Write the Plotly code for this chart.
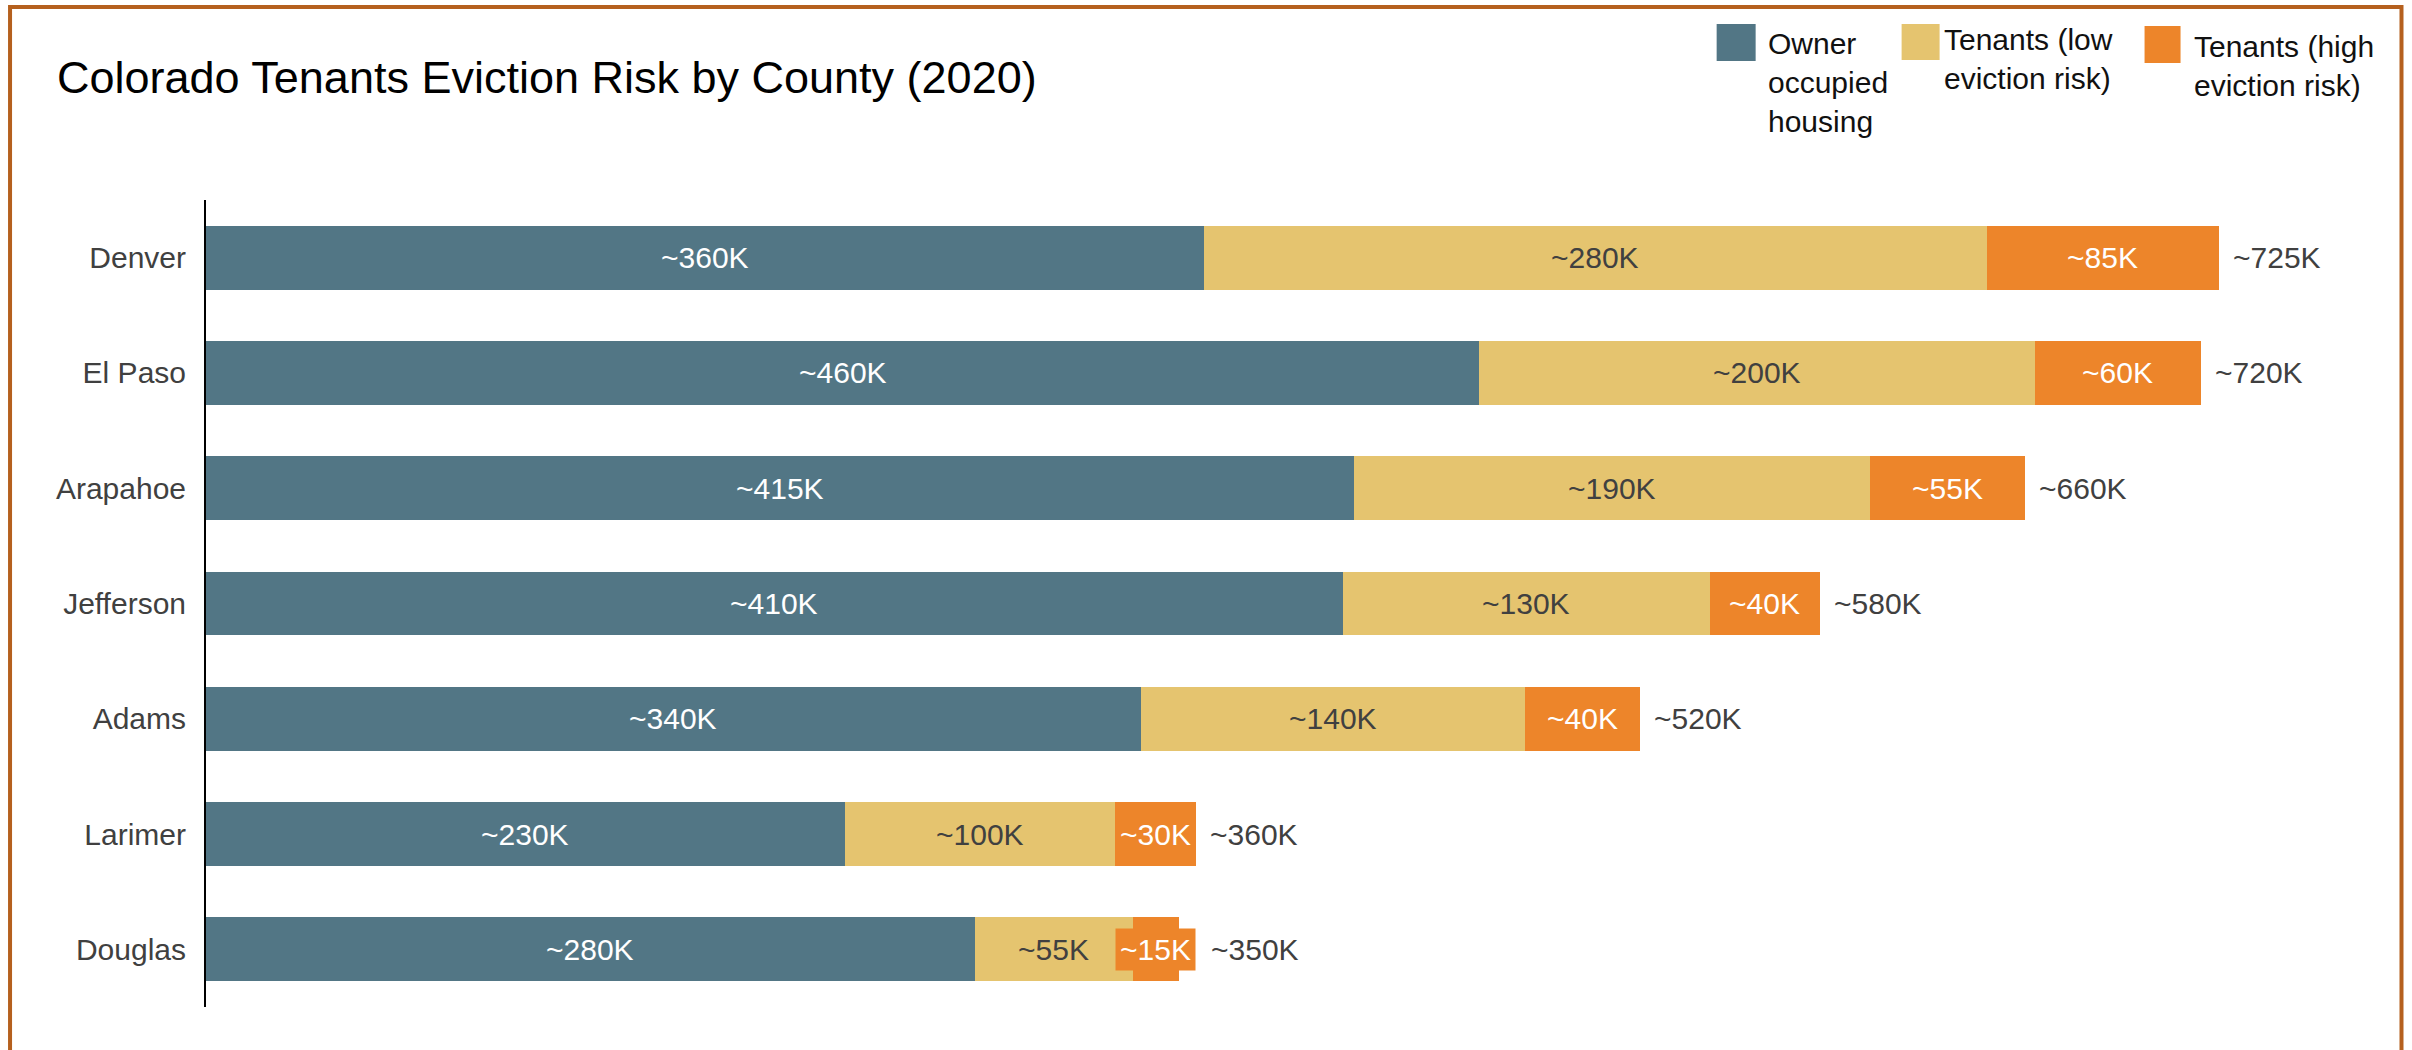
import plotly.graph_objects as go

counties = ["Denver", "El Paso", "Arapahoe", "Jefferson", "Adams", "Larimer", "Douglas"]
# segment values (thousands of housing units)
owner = [359.7, 459.0, 413.7, 409.8, 337.0, 230.3, 277.1]
tenants_low = [282.1, 200.2, 186.2, 132.2, 138.3, 97.3, 57.0]
tenants_high = [83.6, 59.9, 55.6, 39.6, 41.5, 29.1, 16.6]
# rounded labels printed on the chart
owner_labels = ["~360K", "~460K", "~415K", "~410K", "~340K", "~230K", "~280K"]
low_labels = ["~280K", "~200K", "~190K", "~130K", "~140K", "~100K", "~55K"]
high_labels = ["~85K", "~60K", "~55K", "~40K", "~40K", "~30K", "~15K"]
total_labels = ["~725K", "~720K", "~660K", "~580K", "~520K", "~360K", "~350K"]
series_names = ["Owner<br>occupied<br>housing", "Tenants (low<br>eviction risk)", "Tenants (high<br>eviction risk)"]
title_text = "Colorado Tenants Eviction Risk by County (2020)"

C_OWNER = "#527685"
C_LOW = "#E5C46F"
C_HIGH = "#ED852A"
BORDER = "#B5601E"
GRAY = "#404040"
FONT = "Liberation Sans, Arial, sans-serif"

W, H = 2412, 1050
L, T = 206, 200
XMAX = 780
PX_PER_K = 2.775
plot_w = XMAX * PX_PER_K
R = W - L - plot_w
B = H - 1007
plot_h = H - T - B

fig = go.Figure()
for vals, color, name in [(owner, C_OWNER, series_names[0]), (tenants_low, C_LOW, series_names[1]), (tenants_high, C_HIGH, series_names[2])]:
    fig.add_trace(go.Bar(y=counties, x=vals, orientation="h", marker=dict(color=color, line=dict(width=0)),
                         name=name, showlegend=False, hoverinfo="x+y"))

ann = []
for i, c in enumerate(counties):
    o, lo, hi = owner[i], tenants_low[i], tenants_high[i]
    total = o + lo + hi
    small = hi < 20
    ann.append(dict(x=o / 2, y=c, text=owner_labels[i], showarrow=False, font=dict(family=FONT, size=30, color="white")))
    ann.append(dict(x=o + lo / 2, y=c, text=low_labels[i], showarrow=False, font=dict(family=FONT, size=30, color=GRAY)))
    ann.append(dict(x=o + lo + hi / 2, y=c, text=high_labels[i], showarrow=False, font=dict(family=FONT, size=30, color="white"),
                    bgcolor=C_HIGH if small else None, borderpad=4))
    ann.append(dict(x=total, y=c, text=total_labels[i], showarrow=False, xanchor="left", xshift=30 if small else 12,
                    font=dict(family=FONT, size=30, color=GRAY)))

def px(xp):
    return (xp - L) / plot_w
def py(yp):
    return (H - B - yp) / plot_h

shapes = []
shapes.append(dict(type="rect", xref="paper", yref="paper", x0=px(10), x1=px(2402), y0=py(1080), y1=py(7),
                   line=dict(color=BORDER, width=4), fillcolor="rgba(0,0,0,0)", layer="below"))

legend_items = [
    (C_OWNER, 1717, 24, 1756, 61, series_names[0], 1766, 25),
    (C_LOW, 1902, 24, 1940, 60, series_names[1], 1942, 21),
    (C_HIGH, 2145, 26, 2181, 63, series_names[2], 2192, 28),
]
for color, x0, y0, x1, y1, txt, tx, ty in legend_items:
    shapes.append(dict(type="rect", xref="paper", yref="paper", x0=px(x0), x1=px(x1), y0=py(y1), y1=py(y0),
                       line=dict(width=0), fillcolor=color))
    ann.append(dict(xref="paper", yref="paper", x=px(tx), y=py(ty), xanchor="left", yanchor="top", align="left",
                    text=txt, showarrow=False, font=dict(family=FONT, size=30, color="#111111")))

fig.update_layout(
    width=W, height=H,
    margin=dict(l=L, r=R, t=T, b=B, pad=0),
    paper_bgcolor="white", plot_bgcolor="white",
    barmode="stack", bargap=0.445,
    title=dict(text=title_text, x=57 / W, xanchor="left", y=1 - 77 / H, yanchor="middle", xref="container", yref="container",
               font=dict(family=FONT, size=45, color="black")),
    xaxis=dict(range=[0, XMAX], visible=False, showgrid=False, zeroline=False),
    yaxis=dict(range=[6.5, -0.5], type="category", categoryorder="array", categoryarray=counties,
               showline=True, linecolor="black", linewidth=2, ticks="", showgrid=False, zeroline=False,
               ticklabelstandoff=12, tickfont=dict(family=FONT, size=30, color=GRAY)),
    annotations=ann, shapes=shapes, showlegend=False,
)

fig.write_html("out.html")
